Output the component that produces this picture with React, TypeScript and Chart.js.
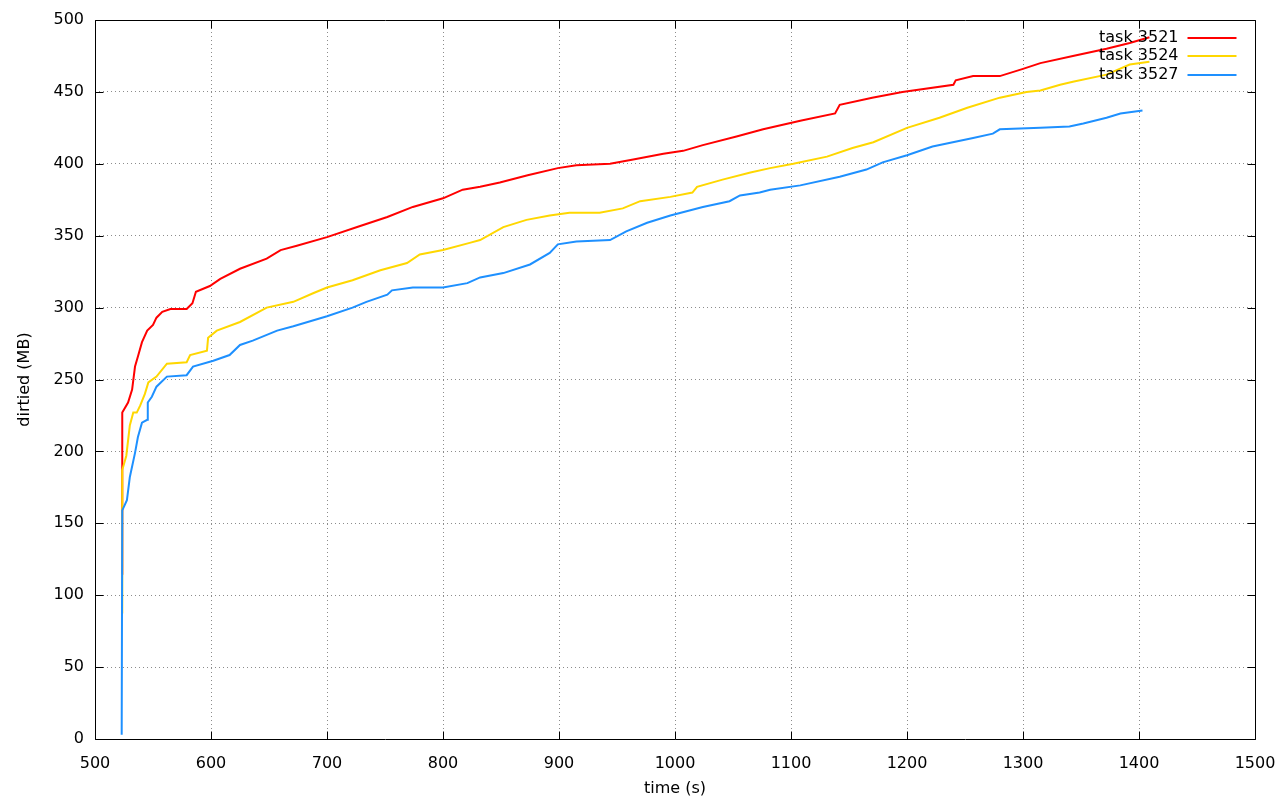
import React, { useEffect, useRef } from "react";
import { Chart, registerables } from "chart.js";

Chart.register(...registerables);

// ---- data ----
const xTicks = [500, 600, 700, 800, 900, 1000, 1100, 1200, 1300, 1400, 1500];
const yTicks = [0, 50, 100, 150, 200, 250, 300, 350, 400, 450, 500];

const seriesNames = ["task 3521", "task 3524", "task 3527"];
const seriesColors = ["#ff0000", "#ffd700", "#1e90ff"];

const task3521Time = [523.3, 523.5, 528.5, 532, 534.5, 537, 540.5, 545, 550, 553, 558, 565, 579, 584, 587, 599, 608, 625, 648, 660, 674, 700, 726, 752, 774, 800, 817, 832, 849, 873, 899, 915, 944, 964, 990, 1007, 1024, 1053, 1076, 1108, 1138, 1142, 1170, 1196, 1240, 1242, 1257, 1280, 1300, 1315, 1343, 1372, 1392, 1409];
const task3521Dirtied = [115, 227, 234, 243, 259, 266, 276, 284, 288, 293, 297, 299, 299, 303, 311, 315, 320, 327, 334, 340, 343, 349, 356, 363, 370, 376, 382, 384, 387, 392, 397, 399, 400, 403, 407, 409, 413, 419, 424, 430, 435, 441, 446, 450, 455, 458, 461, 461, 466, 470, 475, 480, 484, 488];

const task3524Time = [523.3, 523.5, 527, 530, 533, 536, 539, 543, 546, 553, 562, 579, 582, 596.5, 597.5, 605, 625, 648, 671, 688, 700, 722, 746, 769, 780, 800, 823, 832, 852, 872, 892, 909, 935, 955, 970, 996, 1015, 1019, 1041, 1065, 1082, 1102, 1131, 1153, 1171, 1200, 1228, 1252, 1280, 1303, 1315, 1332, 1343, 1372, 1392, 1409];
const task3524Dirtied = [88, 187, 197, 218, 227, 227, 232, 240, 248, 252, 261, 262, 267, 270, 279, 284, 290, 300, 304, 310, 314, 319, 326, 331, 337, 340, 345, 347, 356, 361, 364, 366, 366, 369, 374, 377, 380, 384, 389, 394, 397, 400, 405, 411, 415, 425, 432, 439, 446, 450, 451, 455, 457, 462, 469, 471];

const task3527Time = [523, 523.5, 527.5, 530, 534.5, 537, 540.5, 545, 545.5, 549, 553, 562, 579, 584.5, 602, 616, 625, 636, 657, 671, 700, 722, 734, 752, 756, 774, 800, 821, 832, 852, 875, 892, 899, 915, 944, 958, 976, 996, 1024, 1047, 1056, 1073, 1082, 1108, 1142, 1165, 1179, 1200, 1222, 1257, 1274, 1280, 1315, 1340, 1352, 1372, 1384, 1403];
const task3527Dirtied = [3, 159, 166, 182, 199, 210, 220, 222, 234, 238, 245, 252, 253, 259, 263, 267, 274, 277, 284, 287, 294, 300, 304, 309, 312, 314, 314, 317, 321, 324, 330, 338, 344, 346, 347, 353, 359, 364, 370, 374, 378, 380, 382, 385, 391, 396, 401, 406, 412, 418, 421, 424, 425, 426, 428, 432, 435, 437];

const FONT_FAMILY = "'DejaVu Sans', sans-serif";
const FONT_SIZE = 16;

function toPoints(xs: number[], ys: number[]) {
  return xs.map((x, i) => ({ x, y: ys[i] }));
}

const frameAndKeyPlugin = {
  id: "frameAndKey",
  afterDatasetsDraw(chart: any) {
    const ctx = chart.ctx as CanvasRenderingContext2D;
    const area = chart.chartArea;
    const xs = chart.scales.x;
    const ys = chart.scales.y;
    const L = Math.round(area.left) + 0.5;
    const R = Math.round(area.right) + 0.5;
    const T = Math.round(area.top) + 0.5;
    const B = Math.round(area.bottom) + 0.5;
    const tickLen = 8;
    ctx.save();
    ctx.strokeStyle = "#000";
    ctx.lineWidth = 1;
    ctx.setLineDash([]);
    ctx.beginPath();
    ctx.rect(L, T, R - L, B - T);
    for (const v of xTicks) {
      const px = Math.round(xs.getPixelForValue(v)) + 0.5;
      ctx.moveTo(px, B);
      ctx.lineTo(px, B - tickLen);
      ctx.moveTo(px, T);
      ctx.lineTo(px, T + tickLen);
    }
    for (const v of yTicks) {
      const py = Math.round(ys.getPixelForValue(v)) + 0.5;
      ctx.moveTo(L, py);
      ctx.lineTo(L + tickLen, py);
      ctx.moveTo(R, py);
      ctx.lineTo(R - tickLen, py);
    }
    ctx.stroke();

    // key (top right): text right-aligned, then a line sample
    ctx.font = `${FONT_SIZE}px ${FONT_FAMILY}`;
    ctx.textAlign = "right";
    ctx.textBaseline = "middle";
    const textRight = R - 77;
    const sampleL = R - 68;
    const sampleR = R - 19;
    seriesNames.forEach((name, i) => {
      const y = T + 17 + i * 18.7;
      ctx.fillStyle = "#000";
      ctx.fillText(name, textRight, y);
      ctx.strokeStyle = seriesColors[i];
      ctx.lineWidth = 2;
      ctx.beginPath();
      ctx.moveTo(sampleL, Math.round(y));
      ctx.lineTo(sampleR, Math.round(y));
      ctx.stroke();
    });
    ctx.restore();
  },
};

export default function App() {
  const canvasRef = useRef<HTMLCanvasElement | null>(null);

  useEffect(() => {
    document.body.style.margin = "0";
    const canvas = canvasRef.current;
    if (!canvas) return;
    const font = { family: FONT_FAMILY, size: FONT_SIZE };
    const gridColor = (c: any) => {
      const v = c.tick ? c.tick.value : null;
      if (v === 500 || v === 1500 || v === 0) return "rgba(0,0,0,0)";
      return "#8c8c8c";
    };
    const times = [task3521Time, task3524Time, task3527Time];
    const values = [task3521Dirtied, task3524Dirtied, task3527Dirtied];
    const chart = new Chart(canvas, {
      type: "line",
      data: {
        datasets: seriesNames.map((name, i) => ({
          label: name,
          data: toPoints(times[i], values[i]),
          borderColor: seriesColors[i],
          backgroundColor: seriesColors[i],
          borderWidth: 2,
          pointRadius: 0,
          tension: 0,
          fill: false,
          order: 3 - i,
        })),
      },
      options: {
        responsive: false,
        animation: false,
        devicePixelRatio: 1,
        layout: { padding: { top: 20, right: 25, left: 0, bottom: 0 } },
        plugins: {
          legend: { display: false },
          tooltip: { enabled: false },
        },
        scales: {
          x: {
            type: "linear",
            min: 500,
            max: 1500,
            afterBuildTicks: (s: any) => {
              s.ticks = xTicks.map((v) => ({ value: v }));
            },
            afterFit: (s: any) => {
              s.height = 61;
              s.paddingLeft = 0;
              s.paddingRight = 0;
            },
            ticks: {
              font,
              color: "#000",
              padding: 15,
              maxRotation: 0,
              autoSkip: false,
              callback: (v: any) => String(v),
            },
            grid: { color: gridColor, drawTicks: false, lineWidth: 1 },
            border: { display: false, dash: [1, 3] },
            title: {
              display: true,
              text: "time (s)",
              font,
              color: "#000",
              padding: { top: 0, bottom: 2 },
            },
          },
          y: {
            type: "linear",
            min: 0,
            max: 500,
            afterBuildTicks: (s: any) => {
              s.ticks = yTicks.map((v) => ({ value: v }));
            },
            afterFit: (s: any) => {
              s.width = 95;
              s.paddingTop = 0;
              s.paddingBottom = 0;
            },
            ticks: {
              font,
              color: "#000",
              padding: 11,
              autoSkip: false,
              callback: (v: any) => String(v),
            },
            grid: { color: gridColor, drawTicks: false, lineWidth: 1 },
            border: { display: false, dash: [1, 3] },
            title: {
              display: true,
              text: "dirtied (MB)",
              font,
              color: "#000",
              padding: { top: 15, bottom: 0 },
            },
          },
        },
      },
      plugins: [frameAndKeyPlugin],
    });
    return () => chart.destroy();
  }, []);

  return (
    <div style={{ position: "absolute", left: 0, top: 0, width: 1280, height: 800, background: "#fff" }}>
      <canvas ref={canvasRef} width={1280} height={800} style={{ display: "block", width: 1280, height: 800 }} />
    </div>
  );
}
